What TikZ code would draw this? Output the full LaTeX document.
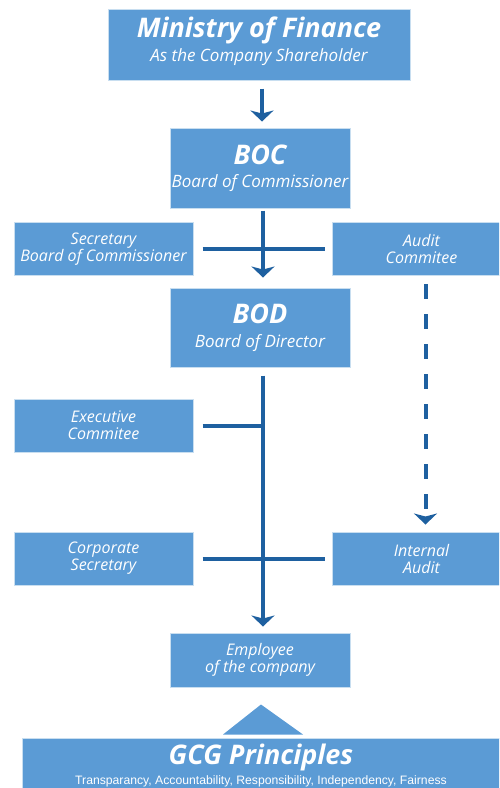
\documentclass[tikz,border=0pt]{standalone}
\usepackage{fontspec}
\setmainfont{Open Sans}
\newfontfamily\arialfont{Liberation Sans}
\usetikzlibrary{arrows.meta}
\definecolor{boxblue}{RGB}{91,155,213}
\definecolor{boxedge}{RGB}{200,222,240}
\definecolor{linkblue}{RGB}{30,96,160}
\tikzset{
  orgbox/.style={rectangle, fill=boxblue, draw=boxedge, line width=1pt, inner sep=0pt, text=white, align=center, font=\itshape},
  bigbox/.style={orgbox, minimum width=180pt, font=\itshape\fontsize{17}{23.5}\selectfont},
  smallbox/.style={orgbox, minimum width=179pt, minimum height=53pt, font=\itshape\fontsize{16}{17}\selectfont},
  link/.style={draw=linkblue, line width=4pt},
  linkarrow/.style={link, -{Stealth[length=11pt,width=23pt,inset=3pt]}},
}
\newcommand{\bigtitle}[1]{{\fontsize{27}{28}\selectfont\bfseries\itshape #1}}
\newcommand{\subtitle}[1]{{\fontsize{17}{20}\selectfont\itshape #1}}
\begin{document}
\begin{tikzpicture}[x=1pt,y=-1pt]
\useasboundingbox (0,0) rectangle (499,788);
\begin{scope}
\clip (0,0) rectangle (499,788);
\node[bigbox, minimum width=302pt, minimum height=71pt] (ministry) at (259,44.5)
  {\bigtitle{Ministry of Finance}\\\subtitle{As the Company Shareholder}\rule[-11pt]{0pt}{11pt}};
\node[bigbox, minimum height=80pt] (boc) at (260,168)
  {\bigtitle{BOC}\\\subtitle{Board of Commissioner}};
\node[smallbox] (secboc) at (103.5,249) {Secretary\\Board of Commissioner};
\node[smallbox] (audit) at (421.5,249) {Audit\\Commitee};
\node[bigbox, minimum height=79pt] (bod) at (260,327.5)
  {\bigtitle{BOD}\\\subtitle{Board of Director}};
\node[smallbox] (exec) at (103.5,425.5) {Executive\\Commitee};
\node[smallbox] (corp) at (103.5,558.5) {Corporate\\Secretary};
\node[smallbox] (internal) at (421.5,558.5) {Internal\\Audit};
\node[orgbox, minimum width=180pt, minimum height=54pt, font=\itshape\fontsize{16}{17}\selectfont] (employee) at (260,660) {Employee\\of the company};
\node[orgbox, minimum width=478pt, minimum height=50pt, font=\fontsize{12}{20}\selectfont] (gcg) at (261,763)
  {\rule{0pt}{25.5pt}\bigtitle{GCG Principles}\\{\arialfont\upshape\fontsize{12.2}{13}\selectfont Transparancy, Accountability, Responsibility, Independency, Fairness}};
\end{scope}
% connectors
\draw[linkarrow, shorten <=8pt, shorten >=6pt] ([xshift=3pt]ministry.south) -- ([xshift=3pt]ministry.south |- boc.north);
\draw[linkarrow, shorten <=2pt, shorten >=10pt] ([xshift=3pt]boc.south) -- ([xshift=3pt]boc.south |- bod.north);
\draw[link, shorten <=9pt, shorten >=7pt] (secboc.east) -- (audit.west);
\draw[linkarrow, shorten <=8pt, shorten >=6pt] ([xshift=3pt]bod.south) -- ([xshift=3pt]bod.south |- employee.north);
\draw[link, shorten <=9pt] (exec.east) -- ([xshift=3pt]exec.east -| bod.south);
\draw[link, shorten <=9pt, shorten >=7pt] (corp.east) -- (internal.west);
\draw[linkarrow, dash pattern=on 15pt off 15pt, shorten <=8pt, shorten >=7pt] ([xshift=4pt]audit.south) -- ([xshift=4pt]internal.north);
\fill[boxblue] ([xshift=-38pt,yshift=3pt]gcg.north) -- ([yshift=33pt]gcg.north) -- ([xshift=42pt,yshift=3pt]gcg.north) -- cycle;
\end{tikzpicture}
\end{document}
